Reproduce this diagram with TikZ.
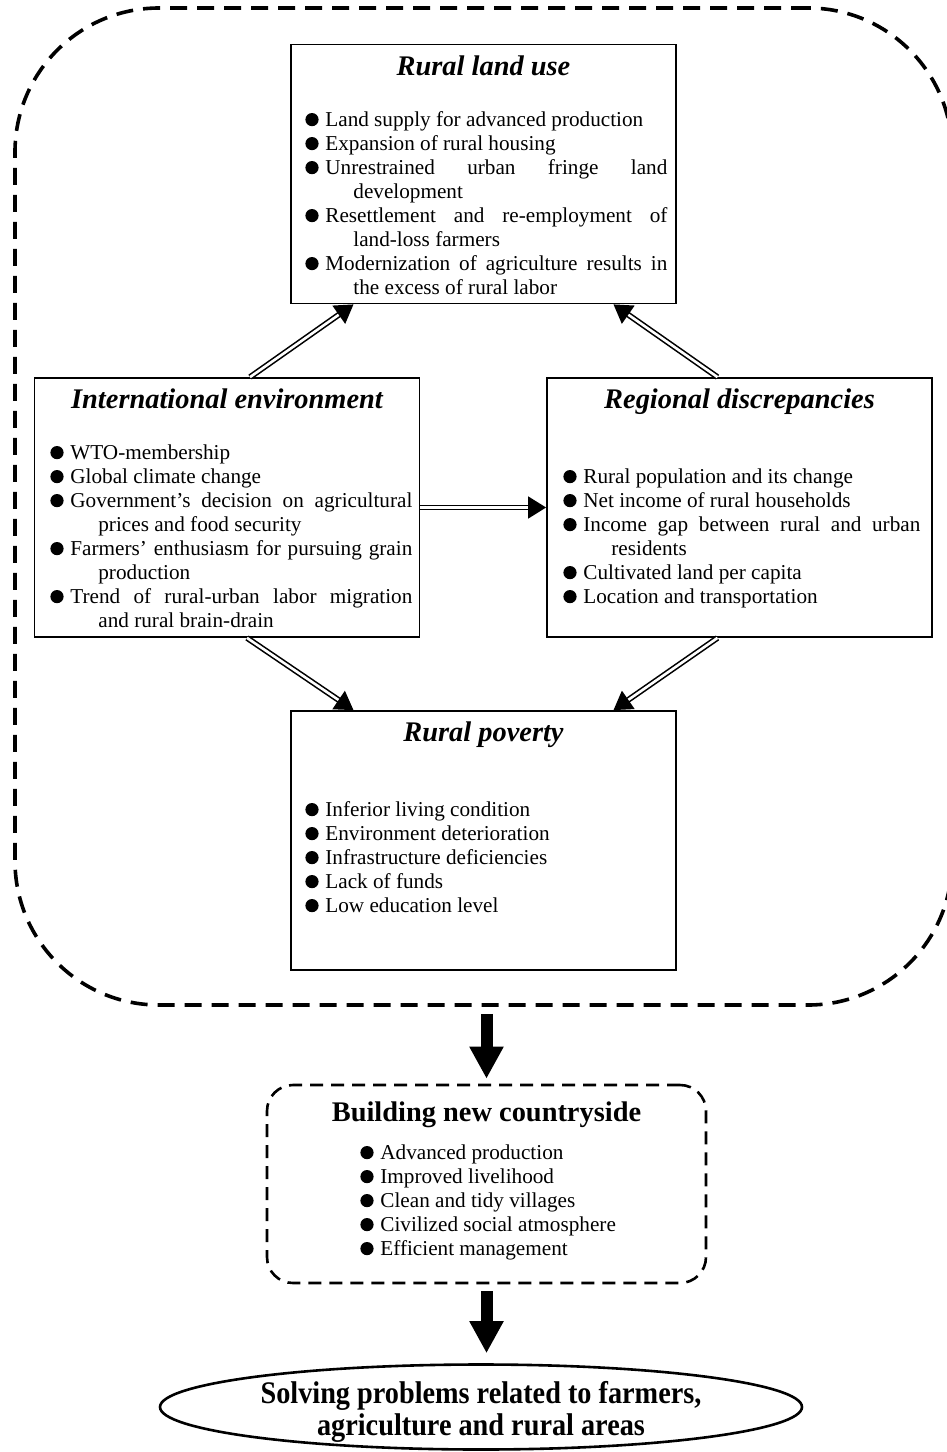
\documentclass[tikz,border=0pt]{standalone}
\usepackage{fontspec}
\setmainfont{Liberation Serif}
\newfontfamily\goalfont[FakeStretch=0.9]{Liberation Serif}
\usetikzlibrary{arrows.meta,shapes.geometric}

\newcommand\itemfont{\fontsize{10.6}{12}\selectfont\hyphenpenalty=10000}
\newcommand\bitem[1]{\par\noindent\hangindent=24pt\hangafter=1\strut\makebox[10pt][l]{\tikz[baseline=0pt]\fill (3.3pt,3.4pt) circle (3.3pt);}#1\par}

\tikzset{
  region/.style={draw, line width=1.8pt, dash pattern=on 8.5pt off 5pt, rounded corners=72pt,
    minimum width=468.5pt, minimum height=498.5pt, inner sep=0pt},
  box/.style={draw, line width=0.9pt, minimum width=192.5pt, minimum height=129.5pt, inner sep=0pt},
  goalbox/.style={draw, line width=1.3pt, dash pattern=on 6.5pt off 4pt, rounded corners=13pt,
    minimum width=219.5pt, minimum height=99pt, inner sep=0pt},
  goal/.style={draw, ellipse, line width=1.3pt, minimum width=321pt, minimum height=42.5pt, inner sep=0pt},
  heading/.style={anchor=base, inner sep=0pt, font=\fontsize{14.2}{16}\selectfont\bfseries\itshape},
  items/.style={anchor=north west, inner sep=0pt, text width=181pt, align=justify, font=\itemfont},
  dblarrow/.style={double, double distance=1.3pt, line width=0.8pt, -{Triangle[length=9pt,width=11pt]}},
  bigarrow/.style={line width=6pt, -{Triangle[length=16pt,width=16pt]}}
}

\begin{document}
\begin{tikzpicture}[x=0.5pt,y=-0.5pt]
\useasboundingbox (0,0) rectangle (947,1452);
\clip (0,0) rectangle (947,1452);

% dashed frame round the four factors
\node[region] (region) at (483.5,506.5) {};

% rural land use
\node[box] (landuse) at (483.5,174) {};
\node[heading] (landuse-t) at (483.5,75) {Rural land use};
\node[items] (landuse-l) at (305,102) {%
\bitem{Land supply for advanced production}
\bitem{Expansion of rural housing}
\bitem{Unrestrained urban fringe land\linebreak development}
\bitem{Resettlement and re-employment of\linebreak land-loss farmers}
\bitem{Modernization of agriculture results in\linebreak the excess of rural labor}};

% international environment
\node[box] (intl) at (227,507.5) {};
\node[heading] (intl-t) at (227,408) {International environment};
\node[items] (intl-l) at (50,435) {%
\bitem{WTO-membership}
\bitem{Global climate change}
\bitem{Government’s decision on agricultural\linebreak prices and food security}
\bitem{Farmers’ enthusiasm for pursuing grain\linebreak production}
\bitem{Trend of rural-urban labor migration\linebreak and rural brain-drain}};

% regional discrepancies
\node[box] (regional) at (739.5,507.5) {};
\node[heading] (regional-t) at (739.5,408) {Regional discrepancies};
\node[items, text width=178.5pt] (regional-l) at (563,459) {%
\bitem{Rural population and its change}
\bitem{Net income of rural households}
\bitem{Income gap between rural and urban\linebreak residents}
\bitem{Cultivated land per capita}
\bitem{Location and transportation}};

% rural poverty
\node[box] (poverty) at (483.5,840.5) {};
\node[heading] (poverty-t) at (483.5,741) {Rural poverty};
\node[items] (poverty-l) at (305,792) {%
\bitem{Inferior living condition}
\bitem{Environment deterioration}
\bitem{Infrastructure deficiencies}
\bitem{Lack of funds}
\bitem{Low education level}};

% building new countryside
\node[goalbox] (building) at (486.5,1184) {};
\node[heading, font=\fontsize{14.2}{16}\selectfont\bfseries] (building-t) at (486.5,1121) {Building new countryside};
\node[items] (building-l) at (360,1135) {%
\bitem{Advanced production}
\bitem{Improved livelihood}
\bitem{Clean and tidy villages}
\bitem{Civilized social atmosphere}
\bitem{Efficient management}};

% final aim
\node[goal] (aim) at (481,1407) {};
\node[align=center, inner sep=0pt, font=\goalfont\fontsize{15.7}{16}\selectfont\bfseries] (aim-t) at (481,1412)
  {Solving problems related to farmers,\\agriculture and rural areas};

% connectors
\draw[dblarrow] ([xshift=11.5pt]intl.north) -- ([xshift=-65pt]landuse.south);
\draw[dblarrow] ([xshift=-11pt]regional.north) -- ([xshift=65pt]landuse.south);
\draw[dblarrow] (intl.east) -- (regional.west);
\draw[dblarrow] ([xshift=10pt]intl.south) -- ([xshift=-65pt]poverty.north);
\draw[dblarrow] ([xshift=-11pt]regional.south) -- ([xshift=65pt]poverty.north);
\draw[bigarrow, shorten <=3.5pt, shorten >=2.5pt] (building.north |- region.south) -- (building.north);
\draw[bigarrow, shorten <=3.5pt, shorten >=5pt] (building.south) -- (building.south |- aim.north);
\end{tikzpicture}
\end{document}
